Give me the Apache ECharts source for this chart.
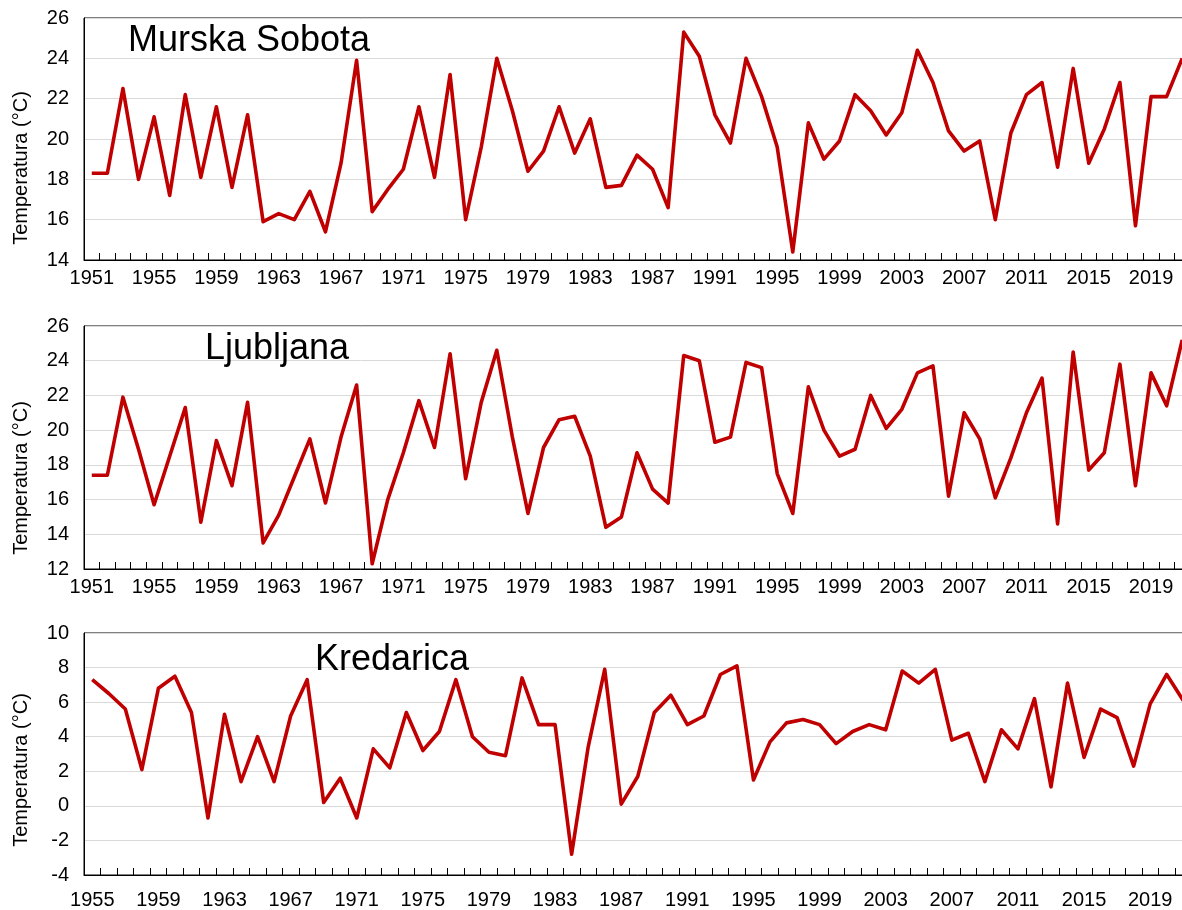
<!DOCTYPE html>
<html>
<head>
<meta charset="utf-8">
<script src="https://cdn.jsdelivr.net/npm/echarts@6/dist/echarts.min.js"></script>
<style>
html,body{margin:0;padding:0;background:#fff;overflow:hidden;}
#chart{width:1200px;height:910px;}
</style>
</head>
<body>
<div id="chart"></div>
<script>
// Categories (years)
const yearsMS = [1951,1952,1953,1954,1955,1956,1957,1958,1959,1960,1961,1962,1963,1964,1965,1966,1967,1968,1969,1970,1971,1972,1973,1974,1975,1976,1977,1978,1979,1980,1981,1982,1983,1984,1985,1986,1987,1988,1989,1990,1991,1992,1993,1994,1995,1996,1997,1998,1999,2000,2001,2002,2003,2004,2005,2006,2007,2008,2009,2010,2011,2012,2013,2014,2015,2016,2017,2018,2019,2020,2021];
const yearsLJ = yearsMS;
const yearsKR = [1955,1956,1957,1958,1959,1960,1961,1962,1963,1964,1965,1966,1967,1968,1969,1970,1971,1972,1973,1974,1975,1976,1977,1978,1979,1980,1981,1982,1983,1984,1985,1986,1987,1988,1989,1990,1991,1992,1993,1994,1995,1996,1997,1998,1999,2000,2001,2002,2003,2004,2005,2006,2007,2008,2009,2010,2011,2012,2013,2014,2015,2016,2017,2018,2019,2020,2021];

// Series values (°C)
const murskaSobota = [18.3,18.3,22.5,18.0,21.1,17.2,22.2,18.1,21.6,17.6,21.2,15.9,16.3,16.0,17.4,15.4,18.8,23.9,16.4,17.5,18.5,21.6,18.1,23.2,16.0,19.6,24.0,21.4,18.4,19.4,21.6,19.3,21.0,17.6,17.7,19.2,18.5,16.6,25.3,24.1,21.2,19.8,24.0,22.1,19.6,14.4,20.8,19.0,19.9,22.2,21.4,20.2,21.3,24.4,22.8,20.4,19.4,19.9,16.0,20.3,22.2,22.8,18.6,23.5,18.8,20.5,22.8,15.7,22.1,22.1,24.0];
const ljubljana = [17.4,17.4,21.9,18.9,15.7,18.5,21.3,14.7,19.4,16.8,21.6,13.5,15.1,17.3,19.5,15.8,19.6,22.6,12.3,16.0,18.7,21.7,19.0,24.4,17.2,21.6,24.6,19.6,15.2,19.0,20.6,20.8,18.5,14.4,15.0,18.7,16.6,15.8,24.3,24.0,19.3,19.6,23.9,23.6,17.5,15.2,22.5,20.0,18.5,18.9,22.0,20.1,21.2,23.3,23.7,16.2,21.0,19.5,16.1,18.4,21.0,23.0,14.6,24.5,17.7,18.7,23.8,16.8,23.3,21.4,25.2];
const kredarica = [7.3,6.5,5.6,2.1,6.8,7.5,5.4,-0.7,5.3,1.4,4.0,1.4,5.2,7.3,0.2,1.6,-0.7,3.3,2.2,5.4,3.2,4.3,7.3,4.0,3.1,2.9,7.4,4.7,4.7,-2.8,3.4,7.9,0.1,1.7,5.4,6.4,4.7,5.2,7.6,8.1,1.5,3.7,4.8,5.0,4.7,3.6,4.3,4.7,4.4,7.8,7.1,7.9,3.8,4.2,1.4,4.4,3.3,6.2,1.1,7.1,2.8,5.6,5.1,2.3,5.9,7.6,6.1];

// Axis settings
const yRangeMS = [14, 26];
const yRangeLJ = [12, 26];
const yRangeKR = [-4, 10];
const yStep = 2;
const panelTitles = ['Murska Sobota', 'Ljubljana', 'Kredarica'];
const yAxisTitle = 'Temperatura (°C)';

const FONT = '"Liberation Sans", Arial, sans-serif';
const LINE_COLOR = '#C00000';

const panels = [
  {years: yearsMS, data: murskaSobota, range: yRangeMS, top: 18, height: 242, width: 1106, xMargin: 8, title: panelTitles[0], tx: 128, ty: 41, nameY: 168},
  {years: yearsLJ, data: ljubljana, range: yRangeLJ, top: 326, height: 243, width: 1106, xMargin: 8, title: panelTitles[1], tx: 205, ty: 349, nameY: 478},
  {years: yearsKR, data: kredarica, range: yRangeKR, top: 633, height: 244, width: 1107.5, xMargin: 15, title: panelTitles[2], tx: 315, ty: 660, nameY: 770}
];

const chart = echarts.init(document.getElementById('chart'), null, {renderer: 'canvas'});

const option = {
  animation: false,
  backgroundColor: '#fff',
  grid: panels.map(p => ({
    left: 84, top: p.top, height: p.height, width: p.width,
    show: true, borderColor: '#000', borderWidth: 1, backgroundColor: 'transparent',
    containLabel: false
  })),
  xAxis: panels.map((p, i) => ({
    type: 'category', gridIndex: i, data: p.years.map(String), boundaryGap: true,
    position: 'bottom',
    axisLine: {show: true, onZero: false, lineStyle: {color: '#000', width: 1}},
    axisTick: {show: true, inside: true, length: 7, interval: 0, alignWithLabel: false, lineStyle: {color: '#000', width: 1}},
    axisLabel: {show: true, interval: 3, margin: p.xMargin, color: '#000', fontSize: 20, fontFamily: FONT},
    splitLine: {show: false}
  })),
  yAxis: panels.map((p, i) => ({
    type: 'value', gridIndex: i, min: p.range[0], max: p.range[1], interval: yStep,
    axisLine: {show: true, onZero: false, lineStyle: {color: '#000', width: 1}},
    axisTick: {show: false},
    axisLabel: {show: true, margin: 15, color: '#000', fontSize: 20, fontFamily: FONT},
    splitLine: {show: true, lineStyle: {color: '#D9D9D9', width: 1}}
  })),
  series: panels.map((p, i) => ({
    type: 'line', xAxisIndex: i, yAxisIndex: i, data: p.data,
    showSymbol: false, symbol: 'none', smooth: false,
    lineStyle: {color: LINE_COLOR, width: 3.6, join: 'round'},
    z: 3
  })),
  graphic: panels.flatMap(p => ([
    {type: 'text', x: p.tx, y: p.ty, z: 10,
      style: {text: p.title, fill: '#000', font: '36px ' + FONT, textAlign: 'left', textVerticalAlign: 'middle'}},
    {type: 'text', x: 21.5, y: p.nameY, rotation: Math.PI / 2, z: 10,
      style: {text: yAxisTitle, fill: '#000', font: '20px ' + FONT, textAlign: 'center', textVerticalAlign: 'middle'}}
  ]))
};
chart.setOption(option);
</script>
</body>
</html>
